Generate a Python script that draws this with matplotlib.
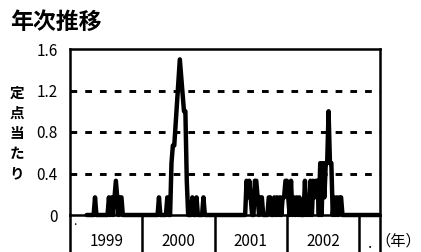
import numpy as np
import matplotlib
matplotlib.use('Agg')
import matplotlib.pyplot as plt

plt.rcParams['font.family'] = ['Noto Sans CJK JP', 'DejaVu Sans']

nan = float('nan')

# weekly values (per sentinel site), one list per year
y1999 = [nan, nan, nan, nan, nan, nan, nan, nan, nan, nan, nan, nan, 0,
         0, 0, 0, 0, 0, 0.17, 0, 0, 0, 0, 0, 0, 0,
         0, 0, 0.17, 0, 0.17, 0, 0.17, 0.33, 0.17, 0, 0.17, 0.17, 0,
         0, 0, 0, 0, 0, 0, 0, 0, 0, 0, 0, 0, 0]
y2000 = [0, 0, 0, 0, 0, 0, 0, 0, 0, 0, 0, 0, 0.17,
         0, 0, 0, 0, 0, 0.17, 0, 0, 0.5, 0.67, 0.67, 0.88, 1.08,
         1.29, 1.5, 1.33, 1.17, 1.0, 1.0, 0.33, 0, 0, 0, 0.17, 0, 0,
         0.17, 0, 0, 0, 0, 0.17, 0, 0, 0, 0, 0, 0, 0]
y2001 = [0, 0, 0, 0, 0, 0, 0, 0, 0, 0, 0, 0, 0,
         0, 0, 0, 0, 0, 0, 0, 0, 0, 0, 0.33, 0.17, 0.33,
         0.17, 0, 0, 0.33, 0.33, 0.17, 0, 0.17, 0.17, 0, 0, 0, 0,
         0.17, 0.17, 0, 0, 0.17, 0, 0.17, 0, 0.17, 0, 0.17, 0.17, 0.33]
y2002 = [0.33, 0.17, 0, 0.33, 0, 0.17, 0, 0.17, 0, 0.17, 0, 0, 0,
         0.33, 0, 0.17, 0, 0.33, 0, 0.33, 0.17, 0.33, 0.33, 0, 0.5, 0,
         0.5, 0.17, 0.5, 0.5, 1.0, 0.5, 0.5, 0, 0.17, 0, 0.17, 0, 0.17,
         0.17, 0, 0, 0, 0, 0, 0, 0, 0, 0, 0, 0, 0]
y2003 = [0, 0, 0, 0, 0, 0, 0, 0, 0, 0, 0, 0, 0, 0, 0]

year_labels = ['1999', '2000', '2001', '2002', '.']
y_ticks = [0, 0.4, 0.8, 1.2, 1.6]
y_tick_labels = ['0', '0.4', '0.8', '1.2', '1.6']
grid_vals = [0.4, 0.8, 1.2]

years = [y1999, y2000, y2001, y2002, y2003]
values = np.array(sum(years, []))
weeks = np.arange(len(values))
bounds = np.concatenate([[0], np.cumsum([len(y) for y in years])])

fig = plt.figure(figsize=(4.21, 2.52), dpi=100)
ax = fig.add_axes([70/421, 37/252, 310/421, 166/252])

for g in grid_vals:
    ax.axhline(g, color='black', lw=2.1, ls=(0, (2.3, 2.75)))

ax.plot(weeks, values, color='black', lw=3.2, solid_joinstyle='round',
        solid_capstyle='round', clip_on=False, zorder=3)

ax.set_xlim(bounds[0], bounds[-1])
ax.set_ylim(0, 1.6)
ax.set_xticks([])
ax.set_yticks(y_ticks)
ax.set_yticklabels(y_tick_labels, fontsize=11)
ax.tick_params(axis='y', length=0, pad=9)
for s in ax.spines.values():
    s.set_linewidth(1.8)

# year boxes under the axis
tr = ax.get_xaxis_transform()
for b in bounds:
    ax.plot([b, b], [0, -0.35], transform=tr, color='black', lw=1.8, clip_on=False)
for i, lab in enumerate(year_labels):
    c = (bounds[i] + bounds[i + 1]) / 2
    if lab == '.':
        ax.text(c, -0.2, lab, transform=tr, ha='center', va='baseline', fontsize=11)
    else:
        ax.text(c, -0.157, lab, transform=tr, ha='center', va='center', fontsize=11)
ax.text(bounds[0] + 2, -0.06, '.', transform=tr, ha='left', va='baseline', fontsize=9)

fig.text(10/421, 1 - 22/252, '年次推移', fontsize=16.5, fontweight='bold',
         ha='left', va='center')
for i, ch in enumerate('定点当たり'):
    fig.text(17/421, 1 - (93 + 20*i)/252, ch, fontsize=10.5, fontweight='bold',
             ha='center', va='center')
fig.text(1.0, 1 - 241/252, '（年）', fontsize=11, ha='right', va='center')

fig.savefig('out.png', dpi=100)
